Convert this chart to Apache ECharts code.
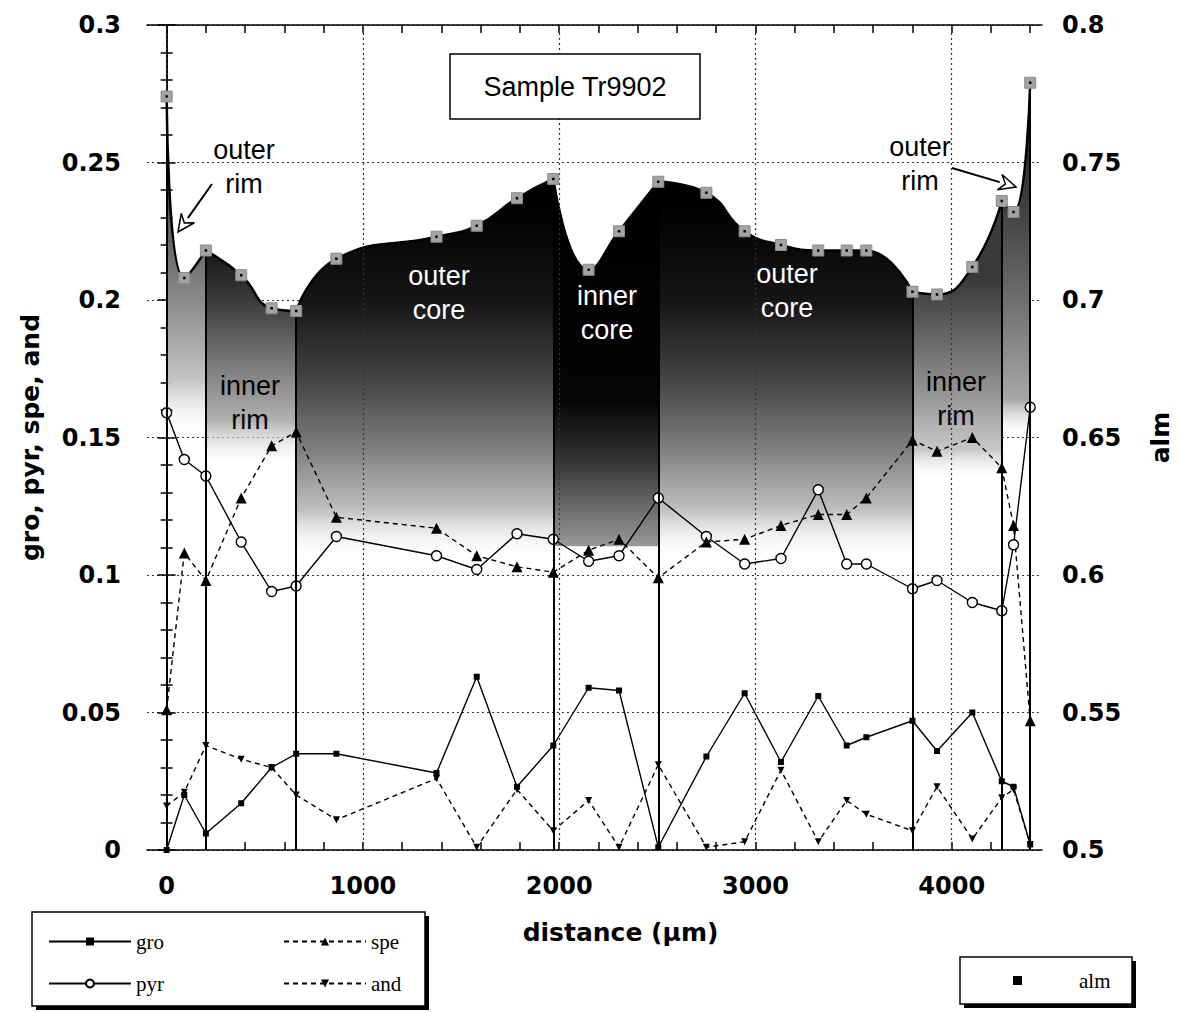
<!DOCTYPE html>
<html>
<head>
<meta charset="utf-8">
<script src="https://cdn.jsdelivr.net/npm/echarts@6/dist/echarts.min.js"></script>
<style>
html, body { margin: 0; background: #fff; }
#main { width: 1180px; height: 1012px; }
</style>
</head>
<body>
<div id="main"></div>
<script>
// analysis points along the traverse (µm)
const distance = [0, 90, 200, 380, 535, 660, 865, 1375, 1580, 1785, 1970, 2150, 2305,
    2505, 2750, 2945, 3130, 3320, 3465, 3565, 3800, 3925, 4105, 4255, 4315, 4400];
const gro = [0, 0.020, 0.006, 0.017, 0.030, 0.035, 0.035, 0.028, 0.063, 0.023, 0.038, 0.059, 0.058,
    0.001, 0.034, 0.057, 0.032, 0.056, 0.038, 0.041, 0.047, 0.036, 0.050, 0.025, 0.023, 0.002];
const pyr = [0.159, 0.142, 0.136, 0.112, 0.094, 0.096, 0.114, 0.107, 0.102, 0.115, 0.113, 0.105, 0.107,
    0.128, 0.114, 0.104, 0.106, 0.131, 0.104, 0.104, 0.095, 0.098, 0.090, 0.087, 0.111, 0.161];
const spe = [0.051, 0.108, 0.098, 0.128, 0.147, 0.152, 0.121, 0.117, 0.107, 0.103, 0.101, 0.109, 0.113,
    0.099, 0.112, 0.113, 0.118, 0.122, 0.122, 0.128, 0.149, 0.145, 0.150, 0.139, 0.118, 0.047];
const and = [0.016, 0.021, 0.038, 0.033, 0.030, 0.020, 0.011, 0.026, 0.001, 0.022, 0.007, 0.018, 0.001,
    0.031, 0.001, 0.003, 0.029, 0.003, 0.018, 0.013, 0.007, 0.023, 0.004, 0.019, 0.022, 0.002];
const alm = [0.774, 0.708, 0.718, 0.709, 0.697, 0.696, 0.715, 0.723, 0.727, 0.737, 0.744, 0.711, 0.725,
    0.743, 0.739, 0.725, 0.720, 0.718, 0.718, 0.718, 0.703, 0.702, 0.712, 0.736, 0.732, 0.779];

// zone boundaries (µm)
const zoneBounds = [0, 200, 660, 1970, 2505, 3800, 4255, 4400];

// axis ticks and labels
const xLabels = [0, 1000, 2000, 3000, 4000];
const xTicks = [0, 200, 400, 600, 800, 1000, 1200, 1400, 1600, 1800, 2000, 2200, 2400,
    2600, 2800, 3000, 3200, 3400, 3600, 3800, 4000, 4200, 4400];

const pairs = ys => distance.map((d, i) => [d, ys[i]]);

// grey shading of each zone, stops given in pixel rows of the plot
const plotTop = 25, plotBottom = 850;
function fade(stops) {
    return {
        type: 'linear', global: true, x: 0, y: plotTop, x2: 0, y2: plotBottom,
        colorStops: stops.map(s => ({ offset: (s[0] - plotTop) / (plotBottom - plotTop), color: s[1] }))
    };
}
const clear = 'rgba(255,255,255,0)';
const zoneShade = [
    [[60, '#1a1a1a'], [200, '#4d4d4d'], [300, '#8a8a8a'], [380, '#c4c4c4'], [440, clear]],
    [[230, '#080808'], [300, '#3a3a3a'], [360, '#767676'], [420, '#b0b0b0'], [470, clear]],
    [[200, '#000'], [300, '#151515'], [380, '#444'], [450, '#808080'], [510, '#c0c0c0'], [560, clear]],
    [[180, '#000'], [400, '#050505'], [460, '#333'], [520, '#7a7a7a'], [546, '#999'], [547, clear]],
    [[200, '#000'], [300, '#151515'], [380, '#444'], [450, '#808080'], [510, '#c0c0c0'], [560, clear]],
    [[280, '#3a3a3a'], [330, '#606060'], [400, '#9a9a9a'], [450, '#c8c8c8'], [480, clear]],
    [[80, '#1a1a1a'], [200, '#3c3c3c'], [300, '#6e6e6e'], [400, '#a8a8a8'], [440, clear]]
];

const zoneSeries = zoneBounds.slice(0, -1).map((b, k) => {
    const i0 = distance.indexOf(b), i1 = distance.indexOf(zoneBounds[k + 1]);
    return {
        type: 'line', yAxisIndex: 1, z: 1, smooth: 0.5, symbol: 'none', silent: true,
        data: distance.slice(i0, i1 + 1).map((d, j) => [d, alm[i0 + j]]),
        lineStyle: { color: '#000', width: 2.5 },
        areaStyle: { origin: 'start', opacity: 1, color: fade(zoneShade[k]) }
    };
});

const axisFont = { color: '#000', fontFamily: 'DejaVu Sans', fontWeight: 'bold', fontSize: 24 };
const nameFont = { color: '#000', fontFamily: 'DejaVu Sans', fontWeight: 'bold', fontSize: 25 };
const dotted = { type: [2, 3], color: '#333', width: 1.2 };
const tickLine = { color: '#000', width: 1.5 };
const legendText = { fontFamily: 'Liberation Serif', fontSize: 21, color: '#000' };
const zoneFont = '27px "Liberation Sans"';

function zoneText(text, x, y, fill) {
    return { type: 'text', z: 20, style: { text: text, x: x, y: y, align: 'center', verticalAlign: 'middle',
        font: zoneFont, lineHeight: 34, fill: fill } };
}
function arrow(x1, y1, tx, ty) {
    const dx = tx - x1, dy = ty - y1, len = Math.sqrt(dx * dx + dy * dy);
    const ux = dx / len, uy = dy / len, px = -uy, py = ux;
    const bx = tx - 17 * ux, by = ty - 17 * uy;
    return [
        { type: 'line', z: 20, shape: { x1: x1, y1: y1, x2: bx, y2: by }, style: { stroke: '#000', lineWidth: 2 } },
        { type: 'polygon', z: 20, shape: { points: [[tx, ty], [bx + 8 * px, by + 8 * py], [tx - 11 * ux, ty - 11 * uy], [bx - 8 * px, by - 8 * py]] },
          style: { fill: '#fff', stroke: '#000', lineWidth: 1.5 } }
    ];
}
function shadowBox(x, y, w, h) {
    return [
        { type: 'rect', z: 1, shape: { x: x + 4, y: y + 4, width: w, height: h }, style: { fill: '#000' } },
        { type: 'rect', z: 2, shape: { x: x, y: y, width: w, height: h }, style: { fill: '#fff', stroke: '#000', lineWidth: 1.5 } }
    ];
}

const option = {
    animation: false,
    backgroundColor: '#fff',
    grid: { left: 147, right: 138, top: plotTop, bottom: 1012 - plotBottom, outerBoundsMode: 'none' },
    xAxis: [
        {
            type: 'value', min: -100, max: 4460, position: 'bottom',
            axisLine: { lineStyle: { color: '#000', width: 1.5 } },
            axisTick: { inside: true, length: 8, customValues: xTicks, lineStyle: tickLine },
            axisLabel: Object.assign({ customValues: xLabels, margin: 24, formatter: v => String(v) }, axisFont),
            splitLine: { show: false },
            name: 'distance (µm)', nameLocation: 'middle', nameGap: 70,
            nameTextStyle: Object.assign({ padding: [0, 0, 0, 52] }, nameFont)
        },
        {
            type: 'value', min: -100, max: 4460, position: 'top',
            axisLine: { lineStyle: { color: '#000', width: 1.5 } },
            axisTick: { inside: true, length: 8, customValues: xTicks, lineStyle: tickLine },
            axisLabel: { show: false },
            splitLine: { show: false }
        }
    ],
    yAxis: [
        {
            type: 'value', min: 0, max: 0.3, interval: 0.05, position: 'left',
            axisLine: { show: true, lineStyle: { color: '#000', width: 1.5 } },
            axisTick: { inside: true, length: 9, lineStyle: tickLine },
            minorTick: { show: true, splitNumber: 5, length: 6, lineStyle: tickLine },
            axisLabel: Object.assign({ margin: 26 }, axisFont),
            splitLine: { show: true, lineStyle: dotted },
            name: 'gro, pyr, spe, and', nameLocation: 'middle', nameRotate: 90, nameGap: 104,
            nameTextStyle: nameFont
        },
        {
            type: 'value', min: 0.5, max: 0.8, interval: 0.05, position: 'right',
            axisLine: { show: true, lineStyle: { color: '#000', width: 1.5 } },
            axisTick: { inside: true, length: 9, lineStyle: tickLine },
            minorTick: { show: true, splitNumber: 5, length: 6, lineStyle: tickLine },
            axisLabel: Object.assign({ margin: 20 }, axisFont),
            splitLine: { show: false },
            name: 'alm', nameLocation: 'middle', nameRotate: 90, nameGap: 106,
            nameTextStyle: nameFont
        }
    ],
    legend: [
        { data: ['gro', 'spe'], left: 48, top: 931, padding: 0, itemWidth: 82, itemHeight: 10, itemGap: 119,
          textStyle: legendText, selectedMode: false, z: 6 },
        { data: ['pyr', 'and'], left: 48, top: 973, padding: 0, itemWidth: 82, itemHeight: 10, itemGap: 119,
          textStyle: legendText, selectedMode: false, z: 6 },
        { data: [{ name: 'alm', icon: 'rect', itemStyle: { color: '#000', borderWidth: 0 } }],
          left: 1013, top: 970, padding: 0, itemWidth: 9, itemHeight: 9,
          textStyle: Object.assign({ padding: [0, 0, 0, 52] }, legendText), selectedMode: false, z: 6 }
    ],
    graphic: [].concat(
        shadowBox(32, 912, 393, 94),
        shadowBox(960, 957, 172, 47),
        [
            { type: 'rect', z: 20, shape: { x: 450, y: 54, width: 250, height: 65 },
              style: { fill: '#fff', stroke: '#000', lineWidth: 1.5 } },
            { type: 'text', z: 21, style: { text: 'Sample Tr9902', x: 575, y: 87, align: 'center', verticalAlign: 'middle',
              font: zoneFont, fill: '#000' } },
            zoneText('outer\nrim', 244, 167, '#000'),
            zoneText('inner\nrim', 250, 403, '#000'),
            zoneText('outer\ncore', 439, 293, '#fff'),
            zoneText('inner\ncore', 607, 313, '#fff'),
            zoneText('outer\ncore', 787, 291, '#fff'),
            zoneText('inner\nrim', 956, 399, '#000'),
            zoneText('outer\nrim', 920, 164, '#000')
        ],
        arrow(212, 184, 178, 232),
        arrow(952, 168, 1016, 187)
    ),
    series: [
        // vertical dotted grid
        { type: 'line', data: [], z: 0, silent: true,
          markLine: { silent: true, symbol: ['none', 'none'], label: { show: false }, lineStyle: dotted,
            data: xLabels.map(v => ({ xAxis: v })) } }
    ].concat(zoneSeries, [
        // zone boundaries
        { type: 'line', data: [], yAxisIndex: 1, z: 3, silent: true,
          markLine: { silent: true, symbol: ['none', 'none'], label: { show: false },
            lineStyle: { type: 'solid', color: '#000', width: 2 },
            data: zoneBounds.map(b => [{ coord: [b, 0.5] }, { coord: [b, alm[distance.indexOf(b)]] }]) } },
        { name: 'gro', type: 'line', z: 4, data: pairs(gro), symbol: 'rect', symbolSize: 6,
          lineStyle: { color: '#000', width: 1.4 }, itemStyle: { color: '#000' } },
        { name: 'pyr', type: 'line', z: 4, data: pairs(pyr), symbol: 'circle', symbolSize: 10,
          lineStyle: { color: '#000', width: 1.4 }, itemStyle: { color: '#fff', borderColor: '#000', borderWidth: 1.4 } },
        { name: 'spe', type: 'line', z: 4, data: pairs(spe), symbol: 'triangle', symbolSize: 11,
          lineStyle: { color: '#000', width: 1.4, type: [5, 4] }, itemStyle: { color: '#000' } },
        { name: 'and', type: 'line', z: 4, data: pairs(and), symbol: 'triangle', symbolRotate: 180, symbolSize: 7,
          lineStyle: { color: '#000', width: 1.4, type: [5, 4] }, itemStyle: { color: '#000' } },
        { name: 'alm', type: 'scatter', yAxisIndex: 1, z: 5, data: pairs(alm), symbol: 'rect', symbolSize: 11,
          itemStyle: { color: '#a3a3a3', borderColor: '#8a8a8a', borderWidth: 1, opacity: 1 } },
        { type: 'scatter', yAxisIndex: 1, z: 6, data: pairs(alm), symbol: 'rect', symbolSize: 2.5, silent: true,
          itemStyle: { color: '#000', opacity: 1 } }
    ])
};

const myChart = echarts.init(document.getElementById('main'), null, { renderer: 'svg' });
myChart.setOption(option);

window.addEventListener('resize', function () {
    myChart.resize();
}, false);
</script>
</body>
</html>
